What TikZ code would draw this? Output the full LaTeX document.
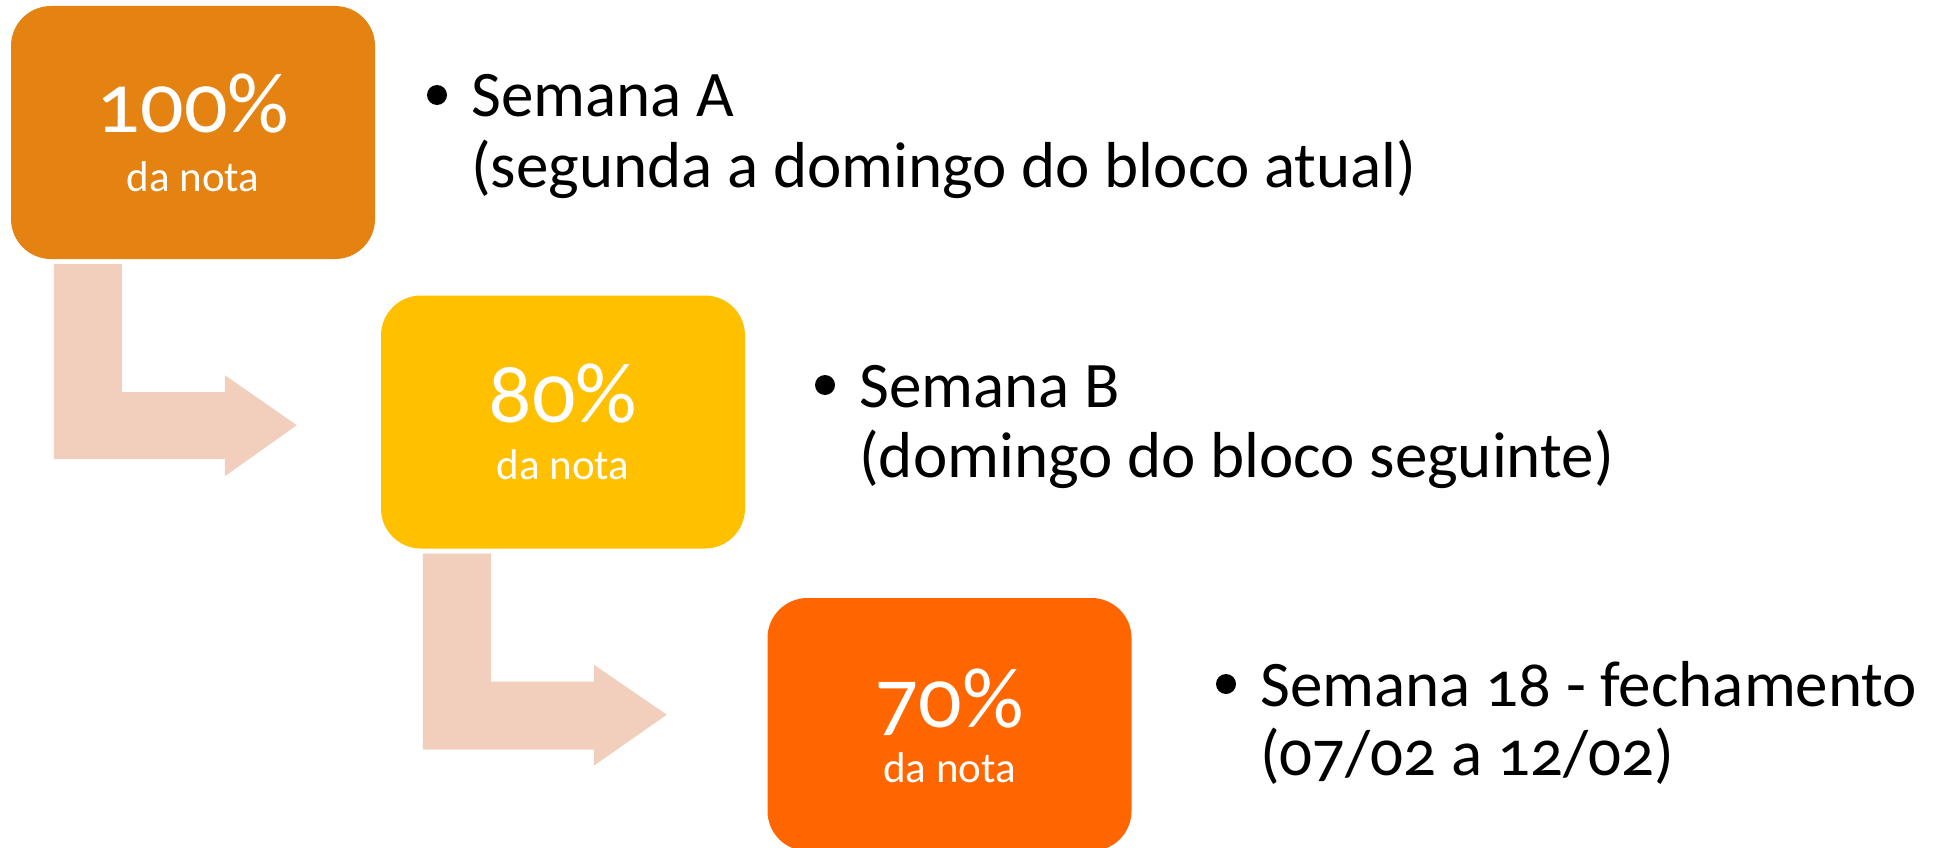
\documentclass[tikz,border=0pt]{standalone}
\usepackage{fontspec}
\setmainfont{Carlito}[Numbers=OldStyle]
\usepackage{xcolor}
\usetikzlibrary{calc,positioning}

\definecolor{boxOne}{RGB}{228,131,18}
\definecolor{boxTwo}{RGB}{255,192,0}
\definecolor{boxThree}{RGB}{255,102,0}
\definecolor{bendFill}{RGB}{242,206,189}

\begin{document}
\begin{tikzpicture}[
        x=1pt, y=-1pt,
        box/.style={rounded corners=40pt, minimum width=364pt, minimum height=253pt, inner sep=0pt},
        pct/.style={text=white, font=\fontsize{86}{86}\selectfont, inner sep=0pt, anchor=base},
        sub/.style={text=white, font=\fontsize{43}{43}\selectfont, inner sep=0pt, anchor=base},
        item/.style={font=\fontsize{65}{65}\selectfont, inner sep=0pt, anchor=base west},
        dot/.style={circle, fill=black, minimum size=20pt, inner sep=0pt},
        bendshape/.style={fill=bendFill}
    ]
        \useasboundingbox (0,0) rectangle (1936,848);

        % Boxes
        \node[box, fill=boxOne] (boxA) at (193,132.5) {};
        \node[box, fill=boxTwo] (boxB) at (563,422) {};
        \node[box, fill=boxThree] (boxC) at (949.5,724.5) {};

        % Percentages
        \node[pct] (pctA) at (boxA.center) {100\%};
        \node[sub] (subA) at ($(boxA.center)+(0,59)$) {da nota};
        \node[pct] (pctB) at (boxB.center) {80\%};
        \node[sub] (subB) at ($(boxB.center)+(0,57)$) {da nota};
        \node[pct] (pctC) at ($(boxC.center)+(0,3)$) {70\%};
        \node[sub] (subC) at ($(boxC.center)+(0,58)$) {da nota};

        % Bent arrows
        \begin{scope}[shift={(boxA.south west)}]
            \fill[bendshape] (43,5) -- (111,5) -- (111,133) -- (214,133) -- (214,116)
                -- (286,166) -- (214,217) -- (214,200) -- (43,200) -- cycle;
        \end{scope}
        \begin{scope}[shift={(boxB.south west)}]
            \fill[bendshape] (42,5) -- (110,5) -- (110,133) -- (213,133) -- (213,116)
                -- (286,166) -- (213,217) -- (213,201) -- (42,201) -- cycle;
        \end{scope}

        % Bullet items
        \node[dot] (dotA) at (437,95) {};
        \node[item] (itemA) at (471,117) {Semana A};
        \node[item] (itemA2) at (471,187) {(segunda a domingo do bloco atual)};

        \node[dot] (dotB) at (825,385) {};
        \node[item] (itemB) at (859,407) {Semana B};
        \node[item] (itemB2) at (859,477) {(domingo do bloco seguinte)};

        \node[dot] (dotC) at (1226,684) {};
        \node[item] (itemC) at (1260,706) {Semana 18 - fechamento};
        \node[item] (itemC2) at (1260,775) {(07/02 a 12/02)};
    \end{tikzpicture}
\end{document}
